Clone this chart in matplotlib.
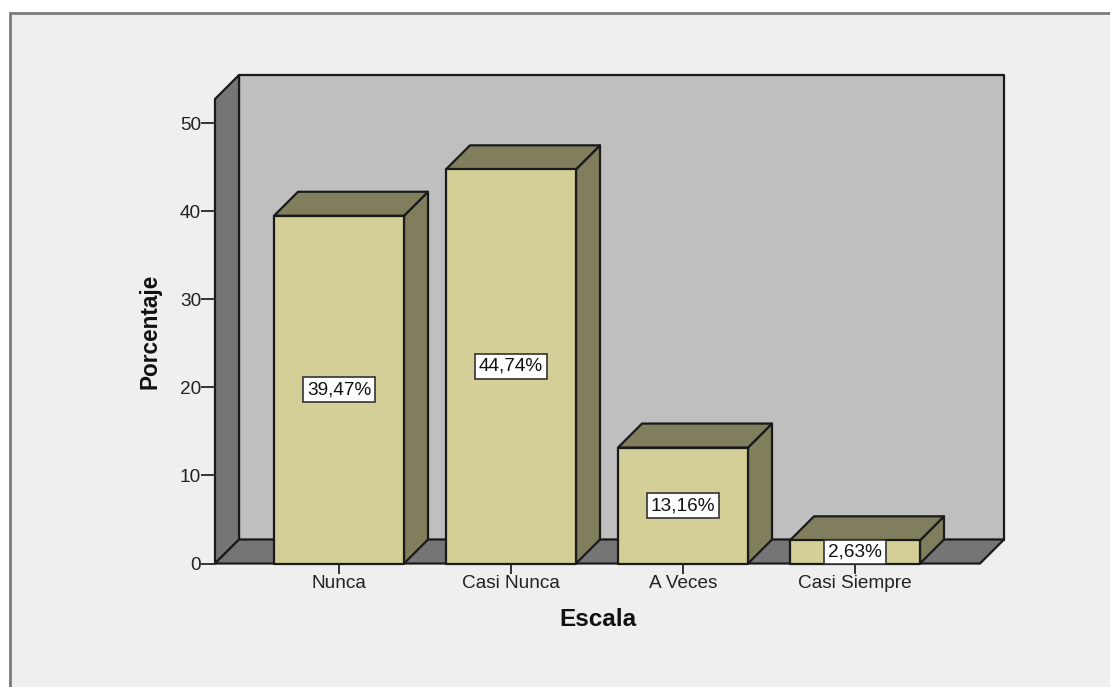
import matplotlib
matplotlib.use("Agg")
import matplotlib.pyplot as plt
from matplotlib.patches import Polygon, Rectangle

categories = ["Nunca", "Casi Nunca", "A Veces", "Casi Siempre"]
percentages = [39.47, 44.74, 13.16, 2.63]
bar_labels = ["39,47%", "44,74%", "13,16%", "2,63%"]
y_ticks = [0, 10, 20, 30, 40, 50]

W, H = 1110, 687
LEFT, RIGHT, BOTTOM, TOP = 215, 980, 563.5, 99
PX_X = 172.0            # pixels per category
PX_Y = 8.81             # pixels per percent
DEPTH = 24              # 3D offset in pixels
BAR_W = 130 / PX_X

BAR_FACE = "#d3cf97"
BAR_SIDE = "#807e5c"
WALL = "#bfbfbf"
FLOOR = "#757575"
EDGE = "#1a1a1a"
TICK_SIZE = 13.7

plt.rcParams["font.family"] = ["Liberation Sans", "DejaVu Sans"]

fig = plt.figure(figsize=(W / 100, H / 100), dpi=100, facecolor="white")

# panel background, the frame runs off the right and bottom of the picture
bg = fig.add_axes([0, 0, 1, 1], zorder=0)
bg.set_xlim(0, W)
bg.set_ylim(H, 0)
bg.axis("off")
bg.add_patch(Rectangle((10, 12.5), 1120, 700, fc="#efefef", ec="#7a7a7a", lw=2))

ax = fig.add_axes([LEFT / W, 1 - BOTTOM / H, (RIGHT - LEFT) / W, (BOTTOM - TOP) / H], zorder=1)
ax.patch.set_visible(False)
x0 = (LEFT - 339) / PX_X
x1 = x0 + (RIGHT - LEFT) / PX_X
y1 = (BOTTOM - TOP) / PX_Y
ax.set_xlim(x0, x1)
ax.set_ylim(0, y1)
dx = DEPTH / PX_X
dy = DEPTH / PX_Y


def poly(points, face, z=2):
    ax.add_patch(Polygon(points, closed=True, fc=face, ec=EDGE, lw=1.6,
                         joinstyle="round", clip_on=False, zorder=z))


# back wall, side wall, floor
poly([(x0 + dx, dy), (x1 + dx, dy), (x1 + dx, y1 + dy), (x0 + dx, y1 + dy)], WALL, 1)
poly([(x0, 0), (x0 + dx, dy), (x0 + dx, y1 + dy), (x0, y1)], FLOOR, 1)
poly([(x0, 0), (x1, 0), (x1 + dx, dy), (x0 + dx, dy)], FLOOR, 1)

# bars
for i, v in enumerate(percentages):
    l, r = i - BAR_W / 2, i + BAR_W / 2
    poly([(r, 0), (r + dx, dy), (r + dx, v + dy), (r, v)], BAR_SIDE, 3)
    poly([(l, v), (r, v), (r + dx, v + dy), (l + dx, v + dy)], BAR_SIDE, 3)
    poly([(l, 0), (r, 0), (r, v), (l, v)], BAR_FACE, 3)
    ax.text(i, v / 2, bar_labels[i], ha="center", va="center", fontsize=TICK_SIZE,
            color="#111111", zorder=5, clip_on=False,
            bbox=dict(boxstyle="square,pad=0.2", fc="white", ec="#333333", lw=1.2))

for side in ax.spines.values():
    side.set_visible(False)
ax.set_xticks(range(len(categories)))
ax.set_xticklabels(categories, fontsize=TICK_SIZE, color="#222222")
ax.set_yticks(y_ticks)
ax.tick_params(axis="x", length=7.5, width=1.4, color="#333333", pad=1)
ax.tick_params(axis="y", length=10, width=1.4, color="#333333", pad=0,
               labelsize=TICK_SIZE, labelcolor="#222222")

ax.set_xlabel("Escala", fontsize=17.5, fontweight="bold", color="#111111", va="center")
ax.set_ylabel("Porcentaje", fontsize=16.3, fontweight="bold", color="#111111", va="center")
ax.xaxis.set_label_coords(0.5, -(619 - BOTTOM) / (BOTTOM - TOP))
ax.yaxis.set_label_coords(-(LEFT - 150) / (RIGHT - LEFT), 0.5)

fig.savefig("out.png", dpi=100)
